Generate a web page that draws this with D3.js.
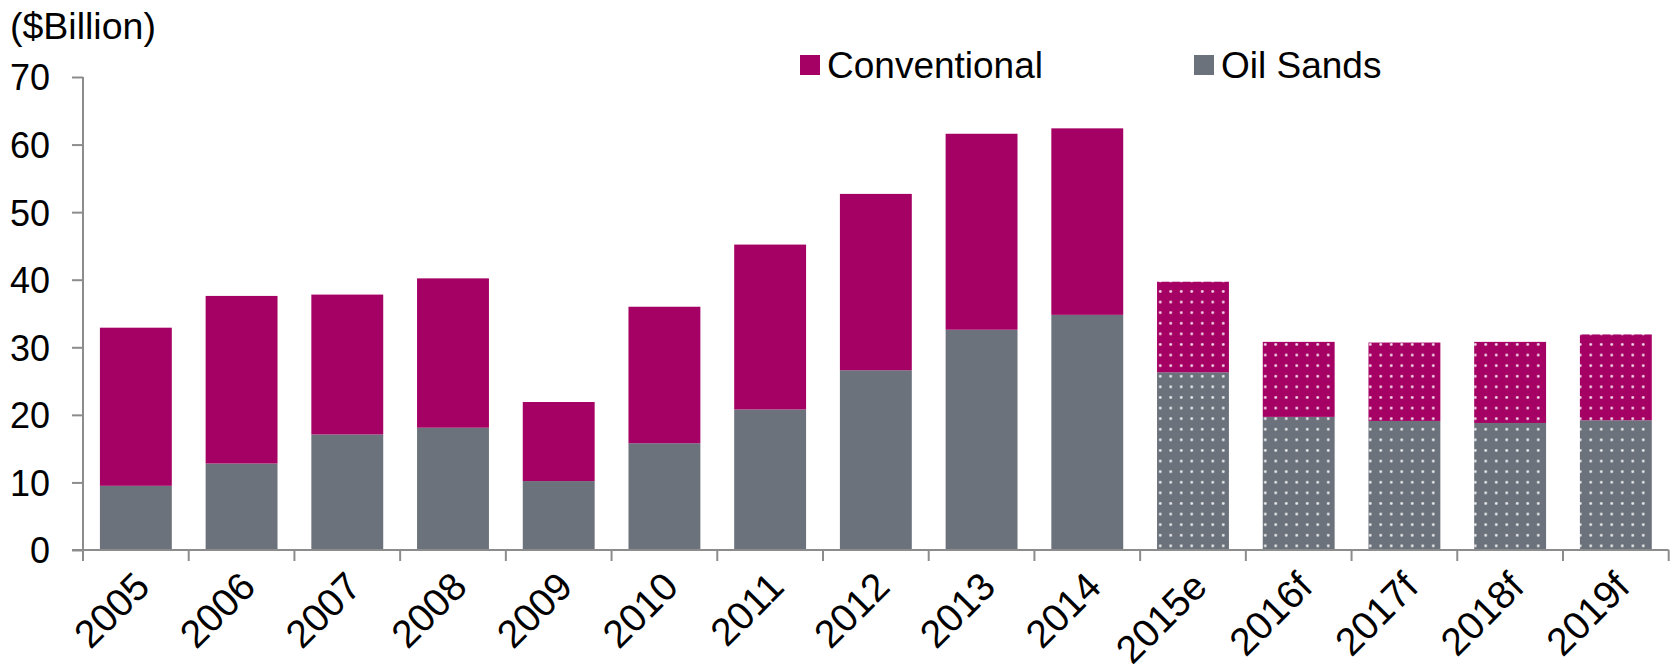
<!DOCTYPE html>
<html>
<head>
<meta charset="utf-8">
<script src="https://cdn.jsdelivr.net/npm/d3@7"></script>
<style>
  html, body { margin: 0; padding: 0; background: #fff; }
  svg { display: block; font-family: "Liberation Sans", Arial, sans-serif; }
</style>
</head>
<body>
<svg id="chart" width="1678" height="668"></svg>
<script>
// Capital spending, $ billion
const years = ["2005","2006","2007","2008","2009","2010","2011","2012","2013","2014","2015e","2016f","2017f","2018f","2019f"];
const oilSands = [9.5, 12.8, 17.1, 18.1, 10.2, 15.8, 20.8, 26.6, 32.6, 34.8, 26.3, 19.7, 19.1, 18.8, 19.2];
const conventional = [23.4, 24.8, 20.7, 22.1, 11.7, 20.2, 24.4, 26.1, 29.0, 27.6, 13.4, 11.1, 11.6, 12.0, 12.7];
const forecastYears = ["2015e","2016f","2017f","2018f","2019f"];
const yTicks = [0, 10, 20, 30, 40, 50, 60, 70];
const seriesNames = ["Conventional", "Oil Sands"];

const colors = { "Conventional": "#A50064", "Oil Sands": "#6B727B" };
const axisColor = "#8C8C8C";

const svg = d3.select("#chart");

const x = d3.scaleBand()
  .domain(years)
  .range([83, 1668.7])
  .paddingInner(0.32)
  .paddingOuter(0.16);

const y = d3.scaleLinear().domain([0, 70]).range([550, 77]);

// Dotted fill for estimate / forecast years
const defs = svg.append("defs");
seriesNames.forEach((name, i) => {
  const p = defs.append("pattern")
    .attr("id", "dots" + i)
    .attr("patternUnits", "userSpaceOnUse")
    .attr("width", 10.5)
    .attr("height", 10.6);
  p.append("rect").attr("width", 10.5).attr("height", 10.6).attr("fill", colors[name]);
  p.append("circle").attr("cx", 5.25).attr("cy", 5.3).attr("r", 1.4)
    .attr("fill", "#ffffff").attr("fill-opacity", 0.85);
});

const rows = years.map((yr, i) => ({ year: yr, "Oil Sands": oilSands[i], "Conventional": conventional[i] }));
const stack = d3.stack().keys(["Oil Sands", "Conventional"]);
const layers = stack(rows);

const g = svg.append("g");
layers.forEach(layer => {
  const key = layer.key;
  const idx = seriesNames.indexOf(key);
  g.selectAll(null)
    .data(layer)
    .enter()
    .append("rect")
    .attr("x", d => x(d.data.year))
    .attr("width", x.bandwidth())
    .attr("y", d => y(d[1]))
    .attr("height", d => y(d[0]) - y(d[1]))
    .attr("fill", d => forecastYears.includes(d.data.year) ? `url(#dots${idx})` : colors[key]);
});

// Y axis
const yAxis = svg.append("g")
  .attr("transform", "translate(83,0)")
  .call(d3.axisLeft(y).tickValues(yTicks).tickSize(11).tickPadding(22).tickSizeOuter(0));
yAxis.select(".domain").attr("stroke", axisColor).attr("stroke-width", 2)
  .attr("d", `M0,${y(70)}V${y(0)}`);
yAxis.selectAll(".tick line").attr("stroke", axisColor).attr("stroke-width", 2);
yAxis.selectAll(".tick text")
  .attr("fill", "#000")
  .style("font-size", "36px")
  .attr("dy", "0.36em");

// X axis: ticks on category boundaries
const bounds = years.map(yr => x(yr) - x.step() * x.paddingInner() / 2);
bounds.push(1668.7);
const xAxis = svg.append("g");
xAxis.append("line")
  .attr("x1", 72).attr("x2", 1668.7)
  .attr("y1", y(0)).attr("y2", y(0))
  .attr("stroke", axisColor).attr("stroke-width", 2);
xAxis.selectAll(".bt")
  .data(bounds)
  .enter()
  .append("line")
  .attr("x1", d => d).attr("x2", d => d)
  .attr("y1", y(0)).attr("y2", y(0) + 11)
  .attr("stroke", axisColor).attr("stroke-width", 2);

xAxis.selectAll(".xl")
  .data(years)
  .enter()
  .append("text")
  .attr("transform", d => `translate(${x(d) + x.bandwidth() / 2 + 16},${y(0) + 39}) rotate(-45)`)
  .attr("text-anchor", "end")
  .style("font-size", "39px")
  .attr("fill", "#000")
  .text(d => d);

// Unit label
svg.append("text")
  .attr("x", 10).attr("y", 39)
  .style("font-size", "37.5px")
  .attr("fill", "#000")
  .text("($Billion)");

// Legend
const legendPos = [{ name: "Conventional", x: 800 }, { name: "Oil Sands", x: 1194 }];
const legend = svg.append("g");
legendPos.forEach(l => {
  legend.append("rect")
    .attr("x", l.x).attr("y", 55)
    .attr("width", 20).attr("height", 20)
    .attr("fill", colors[l.name]);
  legend.append("text")
    .attr("x", l.x + 27).attr("y", 78)
    .style("font-size", "37px")
    .attr("fill", "#000")
    .text(l.name);
});
</script>
</body>
</html>
